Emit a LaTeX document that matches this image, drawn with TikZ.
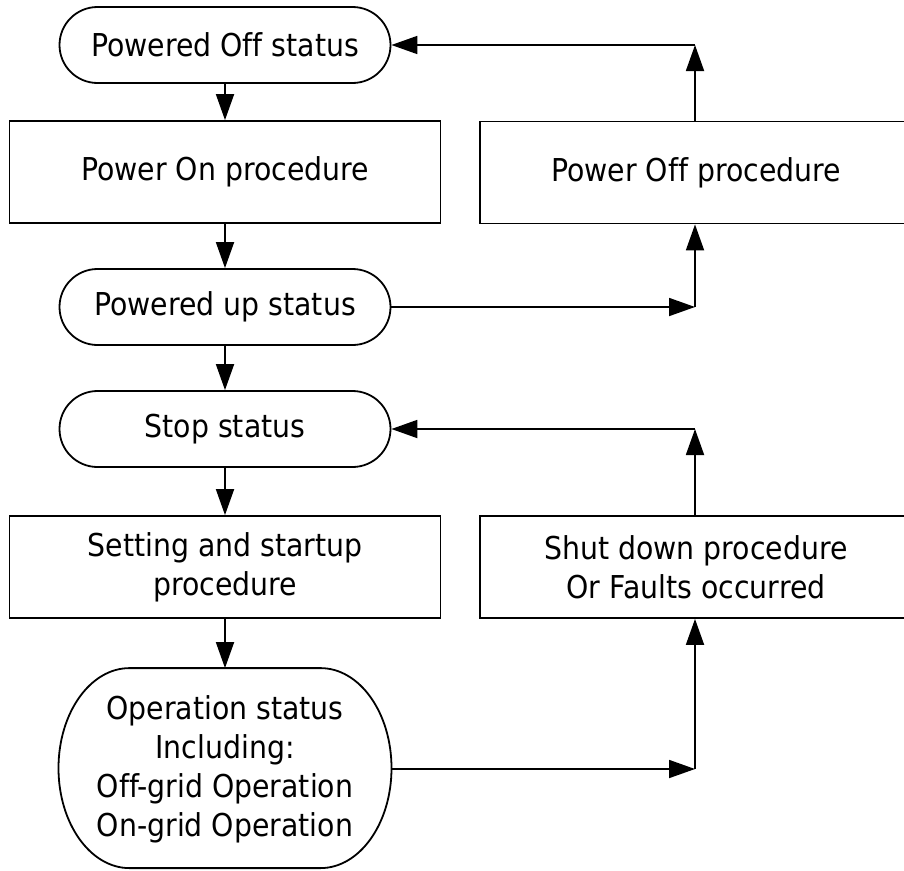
\documentclass[tikz,border=0pt]{standalone}
\usepackage{fontspec}
\setmainfont{DejaVu Sans}[FakeStretch=0.9, Ligatures=NoCommon]
\usetikzlibrary{arrows.meta}
\tikzset{
  base/.style={draw=black, line width=1.8pt, inner sep=0pt, align=center,
    font=\fontsize{31.5}{39}\selectfont},
  term/.style={base, minimum width=331pt, minimum height=76pt, rounded corners=38pt},
  procbox/.style={base, minimum width=431pt, minimum height=102pt},
  conn/.style={line width=1.8pt, -{Triangle[length=26pt,width=18pt]}},
  plain/.style={line width=1.8pt, line join=round},
}
\begin{document}
\begin{tikzpicture}[x=1pt,y=1pt]
\useasboundingbox (0,0) rectangle (904,-870);
\fill[white] (0,0) rectangle (904,-870);
\node[term] (poff) at (225,-45) {Powered Off status};
\node[procbox] (pon) at (225,-172) {Power On procedure};
\node[procbox, minimum width=432pt] (pof) at (696,-172.5) {Power Off procedure};
\node[term] (pup) at (225,-307) {Powered up status};
\node[term] (stop) at (225,-429) {Stop status};
\node[procbox] (set) at (225,-567) {Setting and startup\\procedure};
\node[procbox, minimum width=432pt] (sd) at (696,-567) {Shut down procedure\\Or Faults occurred};
\node[base, draw=none, minimum width=333pt, minimum height=200pt] (op) at (225,-769)
  {Operation status\\Including:\\Off-grid Operation\\On-grid Operation};
\draw[plain] (op.north) -- ++(95.5,0)
  arc[start angle=90,end angle=0,x radius=71pt,y radius=100pt]
  arc[start angle=0,end angle=-90,x radius=71pt,y radius=100pt]
  -- ++(-191,0)
  arc[start angle=270,end angle=180,x radius=71pt,y radius=100pt]
  arc[start angle=180,end angle=90,x radius=71pt,y radius=100pt] -- cycle;
\coordinate (c1) at (695,-307);
\coordinate (c2) at (695,-45);
\coordinate (c3) at (695,-429);
\coordinate (c4) at (695,-769);
\draw[conn] (poff.south) -- (pon.north);
\draw[conn] (pon.south) -- (pup.north);
\draw[conn] (pup.south) -- (stop.north);
\draw[conn] (stop.south) -- (set.north);
\draw[conn] (set.south) -- (op.north);
\draw[conn] (pup.east) -- (c1);
\draw[conn] (c1) -- (c1 |- pof.south);
\draw[conn] (c2 |- pof.north) -- (c2);
\draw[conn] (c2) -- (poff.east);
\draw[conn] (c3 |- sd.north) -- (c3);
\draw[conn] (c3) -- (stop.east);
\draw[conn] (op.east) -- (c4);
\draw[conn] (c4) -- (c4 |- sd.south);
\end{tikzpicture}
\end{document}
